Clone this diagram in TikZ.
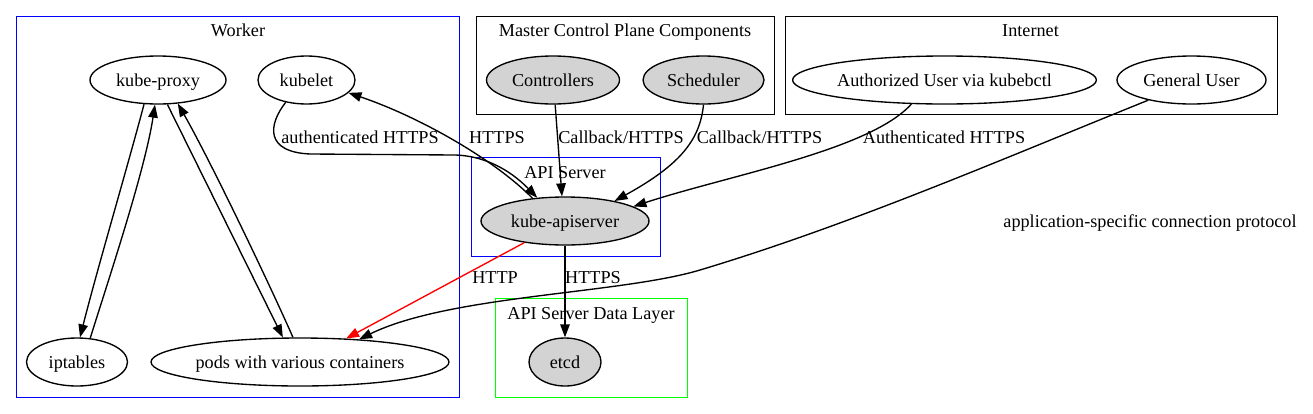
\documentclass[tikz,border=0pt]{standalone}
\usepackage{fontspec}
\setmainfont{Liberation Serif}
\usetikzlibrary{shapes.geometric,arrows.meta}
\definecolor{compgrey}{HTML}{D3D3D3}
\definecolor{layergreen}{HTML}{00FF00}
\definecolor{serverblue}{HTML}{0000FF}
\tikzset{
		k8s/.style={
			x=1pt,y=-1pt,
			every node/.style={font=\fontsize{18.2}{22}\selectfont,inner sep=0pt,text height=12pt,text depth=0pt}
		},
		comp/.style={ellipse,draw,line width=1.35pt,minimum height=48pt},
		core/.style={comp,fill=compgrey},
		cluster/.style={rectangle,draw,line width=1.35pt,anchor=north west},
		link/.style={-{Triangle[length=13pt,width=9.5pt]},line width=1.35pt}
	}

\begin{document}
\begin{tikzpicture}[k8s]
				\useasboundingbox (0,0) rectangle (1313,413);
				\node[cluster,draw=serverblue,minimum width=443pt,minimum height=381pt] (worker) at (16,16) {};
				\node[cluster,minimum width=298pt,minimum height=98pt] (master) at (476,16) {};
				\node[cluster,minimum width=492pt,minimum height=98pt] (internet) at (785,16) {};
				\node[cluster,draw=serverblue,minimum width=189pt,minimum height=99pt] (apicluster) at (471,157) {};
				\node[cluster,draw=layergreen,minimum width=192pt,minimum height=99pt] (datalayer) at (495,298) {};
				\node (workertitle) at (238,30) {Worker};
				\node (mastertitle) at (625,30) {Master Control Plane Components};
				\node (internettitle) at (1030.5,30) {Internet};
				\node (apititle) at (565,172) {API Server};
				\node (datatitle) at (591,313) {API Server Data Layer};

				\node[comp,minimum width=136pt] (kproxy) at (158,80) {kube-proxy};
				\node[comp,minimum width=97pt] (kubelet) at (306.5,80) {kubelet};
				\node[comp,minimum width=101pt] (iptables) at (77,362) {iptables};
				\node[comp,minimum width=298pt] (pods) at (300,362) {pods with various containers};
				\node[core,minimum width=133pt] (ctrl) at (553,80) {Controllers};
				\node[core,minimum width=121pt] (sched) at (703.5,80) {Scheduler};
				\node[comp,minimum width=300pt] (authuser) at (944.5,80) {Authorized User via kubebctl};
				\node[comp,minimum width=149pt] (genuser) at (1191.5,80) {General User};
				\node[core,minimum width=168pt] (api) at (565,221) {kube-apiserver};
				\node[core,minimum width=72pt] (etcd) at (565,362) {etcd};

				\draw[link] (kproxy.240) .. controls (128,165) and (97,270) .. (iptables.83);
				\draw[link] (iptables.61) .. controls (110,275) and (145,170) .. (kproxy.263);
				\draw[link] (kproxy.-69) -- (pods.125);
				\draw[link] (pods.106) .. controls (270,285) and (210,160) .. (kproxy.-50);
				\draw[link] (kubelet.227) .. controls (268,125) and (265,152) .. (310,154) -- (455,155)
					.. controls (490,156) and (515,175) .. (api.140);
				\draw[link] (api.145) .. controls (495,160) and (420,117) .. (kubelet.-17);
				\draw[link] (ctrl.-85) -- (api.97);
				\draw[link] (sched.south) .. controls (700,140) and (680,165) .. (api.22);
				\draw[link] (authuser.216) .. controls (870,150) and (730,175) .. (api.12);
				\draw[link] (genuser.205) .. controls (1000,160) and (850,225) .. (700,270)
					.. controls (620,294) and (450,295) .. (pods.21);
				\draw[link,red] (api.208) -- (pods.27);
				\draw[link] (api.south) -- (etcd.north);

				\node (lblkubelet) at (360,137) {authenticated HTTPS};
				\node (lblhttps) at (497,137) {HTTPS};
				\node (lblctrl) at (621,137) {Callback/HTTPS};
				\node (lblsched) at (759.5,137) {Callback/HTTPS};
				\node (lbluser) at (944,137) {Authenticated HTTPS};
				\node (lblapp) at (1150,221) {application-specific connection protocol};
				\node (lblhttp) at (495,277) {HTTP};
				\node (lbletcd) at (593,277) {HTTPS};
			\end{tikzpicture}
\end{document}
